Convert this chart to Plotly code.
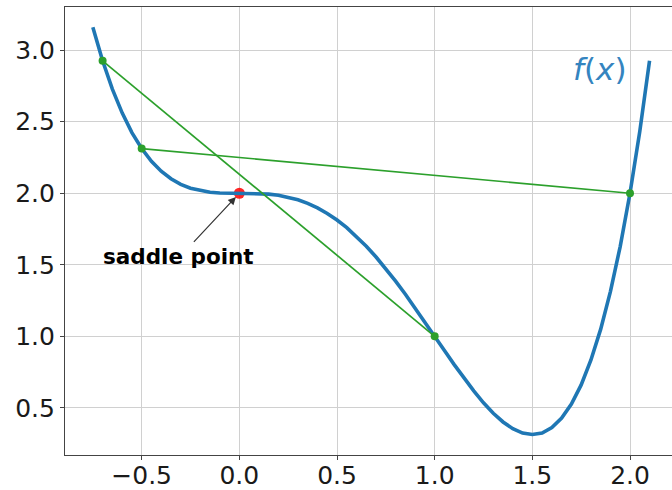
import plotly.graph_objects as go

# Sampled curve f(x)
curve_x = [-0.75, -0.70, -0.65, -0.60, -0.55, -0.50, -0.45, -0.40, -0.35, -0.30,
           -0.25, -0.20, -0.15, -0.10, -0.05, 0.00, 0.05, 0.10, 0.15, 0.20,
           0.25, 0.30, 0.35, 0.40, 0.45, 0.50, 0.55, 0.60, 0.65, 0.70,
           0.75, 0.80, 0.85, 0.90, 0.95, 1.00, 1.05, 1.10, 1.15, 1.20,
           1.25, 1.30, 1.35, 1.40, 1.45, 1.50, 1.55, 1.60, 1.65, 1.70,
           1.75, 1.80, 1.85, 1.90, 1.95, 2.00, 2.05, 2.10]
curve_y = [3.160, 2.926, 2.728, 2.562, 2.424, 2.313, 2.223, 2.154, 2.101, 2.062,
           2.035, 2.018, 2.007, 2.002, 2.000, 2.000, 2.000, 1.998, 1.994, 1.986,
           1.973, 1.954, 1.929, 1.898, 1.859, 1.813, 1.759, 1.698, 1.629, 1.554,
           1.473, 1.386, 1.294, 1.198, 1.100, 1.000, 0.900, 0.802, 0.707, 0.618,
           0.535, 0.462, 0.401, 0.354, 0.323, 0.313, 0.324, 0.362, 0.428, 0.526,
           0.660, 0.834, 1.050, 1.314, 1.629, 2.000, 2.431, 2.926]

# Secant chords (end points)
chord1_x = [-0.7, 1.0]
chord1_y = [2.926, 1.0]
chord2_x = [-0.5, 2.0]
chord2_y = [2.3125, 2.0]

# Saddle point
saddle_x = [0.0]
saddle_y = [2.0]

tick_x_vals = [-0.5, 0.0, 0.5, 1.0, 1.5, 2.0]
tick_x_text = ["\u22120.5", "0.0", "0.5", "1.0", "1.5", "2.0"]
tick_y_vals = [0.5, 1.0, 1.5, 2.0, 2.5, 3.0]
tick_y_text = ["0.5", "1.0", "1.5", "2.0", "2.5", "3.0"]

BLUE = "#1f77b4"
GREEN = "#2ca02c"
FONT = "DejaVu Sans"

fig = go.Figure()

fig.add_trace(go.Scatter(
    x=saddle_x, y=saddle_y, mode="markers",
    marker=dict(color="rgba(255,0,0,0.85)", size=11, line=dict(width=0)),
    showlegend=False, hoverinfo="skip"))

fig.add_trace(go.Scatter(
    x=curve_x, y=curve_y, mode="lines",
    line=dict(color=BLUE, width=3.6),
    showlegend=False))

for cx, cy in [(chord1_x, chord1_y), (chord2_x, chord2_y)]:
    fig.add_trace(go.Scatter(
        x=cx, y=cy, mode="lines+markers",
        line=dict(color=GREEN, width=1.7),
        marker=dict(color=GREEN, size=8),
        showlegend=False))

# Arrow pointing to the saddle point
fig.add_annotation(
    x=saddle_x[0], y=saddle_y[0], ax=-0.24, ay=1.65,
    xref="x", yref="y", axref="x", ayref="y",
    text="", showarrow=True, arrowhead=2, arrowsize=1.3,
    arrowwidth=1.2, arrowcolor="#333333", standoff=5)

fig.add_annotation(
    x=-0.312, y=1.555, xref="x", yref="y",
    text="<b>saddle point</b>", showarrow=False,
    font=dict(family=FONT, size=21.5, color="black"))

fig.add_annotation(
    x=1.846, y=2.867, xref="x", yref="y",
    text="<i>f</i>(<i>x</i>)", showarrow=False,
    font=dict(family=FONT, size=31, color="#3484bf"))

axis_common = dict(
    showgrid=True, gridcolor="#d0d0d0", gridwidth=1,
    zeroline=False, showline=True, linecolor="#444444", linewidth=1.2,
    ticks="outside", ticklen=4, tickwidth=1, tickcolor="#444444",
    tickfont=dict(family=FONT, size=25, color="#1a1a1a"),
    automargin=False,
)

fig.update_xaxes(range=[-0.8925, 2.215], tickvals=tick_x_vals, ticktext=tick_x_text,
                 mirror=True, ticklabelstandoff=-6, **axis_common)
fig.update_yaxes(range=[0.170, 3.302], tickvals=tick_y_vals, ticktext=tick_y_text,
                 **axis_common)

fig.update_layout(
    width=672, height=490,
    margin=dict(l=65, r=0, t=7, b=35),
    plot_bgcolor="white", paper_bgcolor="white",
)

fig.write_html("out.html")
